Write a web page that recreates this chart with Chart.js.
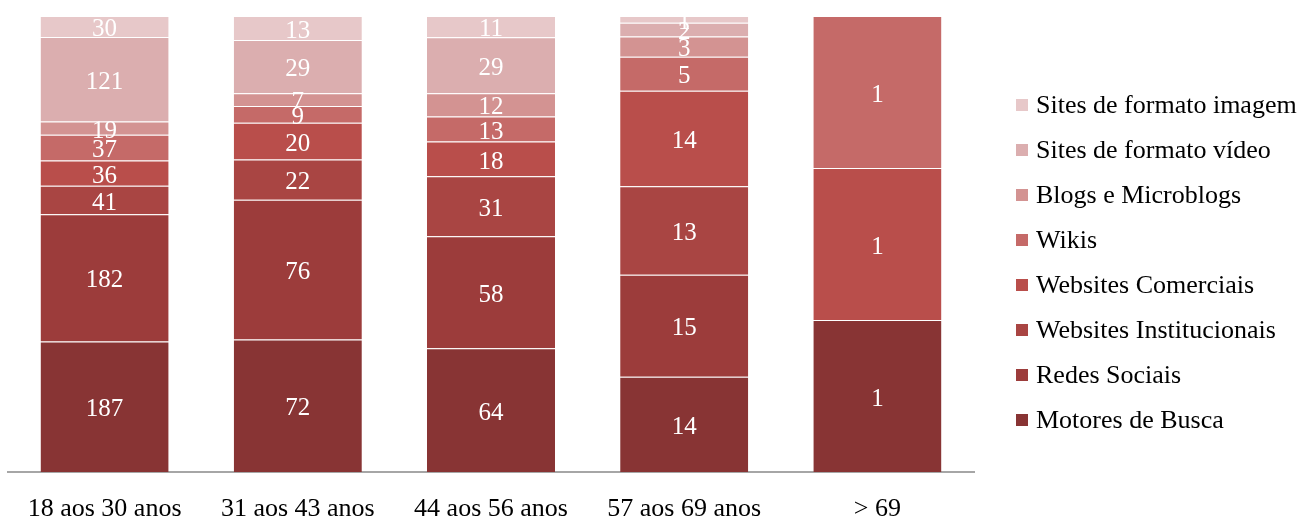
<!DOCTYPE html>
<html>
<head>
<meta charset="utf-8">
<script src="https://cdn.jsdelivr.net/npm/chart.js@4/dist/chart.umd.min.js"></script>
<style>
  html, body { margin: 0; padding: 0; background: #ffffff; }
  #wrap { width: 1304px; height: 516px; position: relative; }
</style>
</head>
<body>
<div id="wrap"><canvas id="c" width="1304" height="516"></canvas></div>
<script>
// Faixas etárias
const categories = ['18 aos 30 anos', '31 aos 43 anos', '44 aos 56 anos', '57 aos 69 anos', '> 69'];

// Número de respostas por tipo de site, em cada faixa etária
const motoresDeBusca         = [187, 72, 64, 14, 1];
const redesSociais           = [182, 76, 58, 15, 0];
const websitesInstitucionais = [41, 22, 31, 13, 0];
const websitesComerciais     = [36, 20, 18, 14, 1];
const wikis                  = [37, 9, 13, 5, 1];
const blogsMicroblogs        = [19, 7, 12, 3, 0];
const sitesVideo             = [121, 29, 29, 2, 0];
const sitesImagem            = [30, 13, 11, 1, 0];

const seriesNames = [
  'Motores de Busca', 'Redes Sociais', 'Websites Institucionais', 'Websites Comerciais',
  'Wikis', 'Blogs e Microblogs', 'Sites de formato vídeo', 'Sites de formato imagem'
];
const seriesValues = [
  motoresDeBusca, redesSociais, websitesInstitucionais, websitesComerciais,
  wikis, blogsMicroblogs, sitesVideo, sitesImagem
];
const seriesColors = [
  '#883434', '#9c3c3b', '#a94543', '#b94e4b',
  '#c56a68', '#d39392', '#dbaeaf', '#e7c8c9'
];

// Totais por faixa, para empilhar em 100%
const totals = categories.map((_, i) => seriesValues.reduce((s, arr) => s + arr[i], 0));

const datasets = seriesNames.map((name, k) => ({
  label: name,
  data: seriesValues[k].map((v, i) => v / totals[i] * 100),
  raw: seriesValues[k],
  backgroundColor: seriesColors[k],
  borderColor: 'rgba(255,255,255,0.35)',
  borderWidth: { top: 1, bottom: 0, left: 0, right: 0 },
  borderSkipped: false,
  barPercentage: 0.663,
  categoryPercentage: 1.0
}));

const SERIF = '"Liberation Serif", "Times New Roman", serif';

// Valores absolutos escritos no centro de cada segmento
const segmentLabels = {
  id: 'segmentLabels',
  afterDatasetsDraw(chart) {
    const ctx = chart.ctx;
    ctx.save();
    ctx.fillStyle = '#ffffff';
    ctx.font = '25px ' + SERIF;
    ctx.textAlign = 'center';
    ctx.textBaseline = 'middle';
    chart.data.datasets.forEach((ds, di) => {
      const meta = chart.getDatasetMeta(di);
      meta.data.forEach((bar, i) => {
        const v = ds.raw[i];
        if (!v) return;
        const mid = (bar.y + bar.base) / 2;
        ctx.fillText(String(v), bar.x, mid + 3);
      });
    });
    ctx.restore();
  }
};

// Legenda à direita, em ordem inversa (de cima para baixo)
const sideLegend = {
  id: 'sideLegend',
  afterDraw(chart) {
    const ctx = chart.ctx;
    const area = chart.chartArea;
    const boxX = area.right + 42;
    const firstY = 105;
    const step = 45;
    ctx.save();
    ctx.font = '26px ' + SERIF;
    ctx.textAlign = 'left';
    ctx.textBaseline = 'middle';
    const items = chart.data.datasets.slice().reverse();
    items.forEach((ds, j) => {
      const y = firstY + j * step;
      ctx.fillStyle = ds.backgroundColor;
      ctx.fillRect(boxX, y - 6, 12, 12);
      ctx.fillStyle = '#000000';
      ctx.fillText(ds.label, boxX + 20, y + 1);
    });
    ctx.restore();
  }
};

new Chart(document.getElementById('c'), {
  type: 'bar',
  data: { labels: categories, datasets },
  options: {
    responsive: false,
    animation: false,
    layout: { padding: { left: 8, top: 16, right: 330, bottom: 0 } },
    scales: {
      x: {
        stacked: true,
        grid: { display: false, drawTicks: false },
        border: { display: true, color: '#a6a6a6', width: 2 },
        ticks: { color: '#000000', font: { family: SERIF, size: 26, lineHeight: 1 }, padding: 24 },
        afterFit(scale) { scale.height = 44; }
      },
      y: {
        stacked: true,
        display: false,
        min: 0,
        max: 100
      }
    },
    plugins: {
      tooltip: { enabled: false },
      legend: { display: false }
    }
  },
  plugins: [segmentLabels, sideLegend]
});
</script>
</body>
</html>
